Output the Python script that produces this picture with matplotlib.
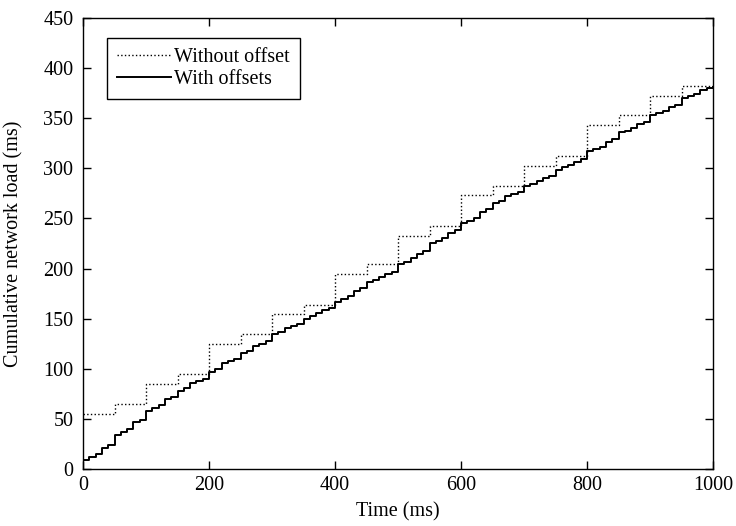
import numpy as np
import matplotlib.pyplot as plt

plt.rcParams['font.family'] = ['Liberation Serif', 'DejaVu Serif']
plt.rcParams['font.size'] = 14.5

# Ohne Offset: ein Wert pro 50 ms
t_no = np.arange(0, 1000, 50)
load_no = [55, 65, 85, 95, 125, 135, 155, 164, 195, 205,
           232, 242, 273, 282, 302, 312, 343, 353, 372, 382]

# Mit Offsets: ein Wert pro 10 ms
t_off = np.arange(0, 1000, 10)
load_off = [9, 12, 15, 21, 24,
            34, 37, 40, 47, 49,
            58, 61, 64, 70, 72,
            78, 81, 86, 88, 90,
            97, 100, 106, 108, 110,
            116, 118, 123, 125, 128,
            135, 137, 141, 143, 145,
            150, 153, 156, 159, 161,
            167, 170, 173, 178, 181,
            187, 189, 192, 195, 197,
            205, 207, 211, 215, 218,
            225, 227, 230, 235, 238,
            245, 247, 250, 256, 259,
            265, 267, 272, 274, 276,
            282, 284, 287, 290, 292,
            298, 301, 303, 306, 309,
            317, 319, 321, 326, 329,
            336, 337, 340, 344, 346,
            353, 355, 357, 361, 363,
            370, 372, 374, 378, 380]

fig = plt.figure(figsize=(7.36, 5.26), dpi=100)
ax = fig.add_axes([0.1128, 0.1084, 0.856, 0.8574])

ax.step(np.append(t_no, 1000), load_no + [load_no[-1]], where='post',
        color='black', linestyle=':', linewidth=1.0, label='Without offset')
ax.step(np.append(t_off, 1000), load_off + [381], where='post',
        color='black', linestyle='-', linewidth=1.4, label='With offsets')

ax.set_xlim(0, 1000)
ax.set_ylim(0, 450)
ax.set_xticks(range(0, 1001, 200))
ax.set_yticks(range(0, 451, 50))
ax.tick_params(direction='in', top=True, right=True, length=6, width=1, pad=5)
ax.tick_params(axis='y', pad=7)
for s in ax.spines.values():
    s.set_linewidth(1.0)

ax.set_xlabel('Time (ms)', labelpad=5)
ax.set_ylabel('Cumulative network load (ms)')
ax.yaxis.set_label_coords(-0.094, 0.5)

leg = ax.legend(loc='upper left', bbox_to_anchor=(0.038, 0.956), borderaxespad=0,
                fancybox=False, edgecolor='black', framealpha=1, handlelength=2.7,
                handletextpad=0.15, borderpad=0.5, labelspacing=0.15)
leg.get_frame().set_linewidth(1.0)

fig.savefig('out.png', dpi=100)
